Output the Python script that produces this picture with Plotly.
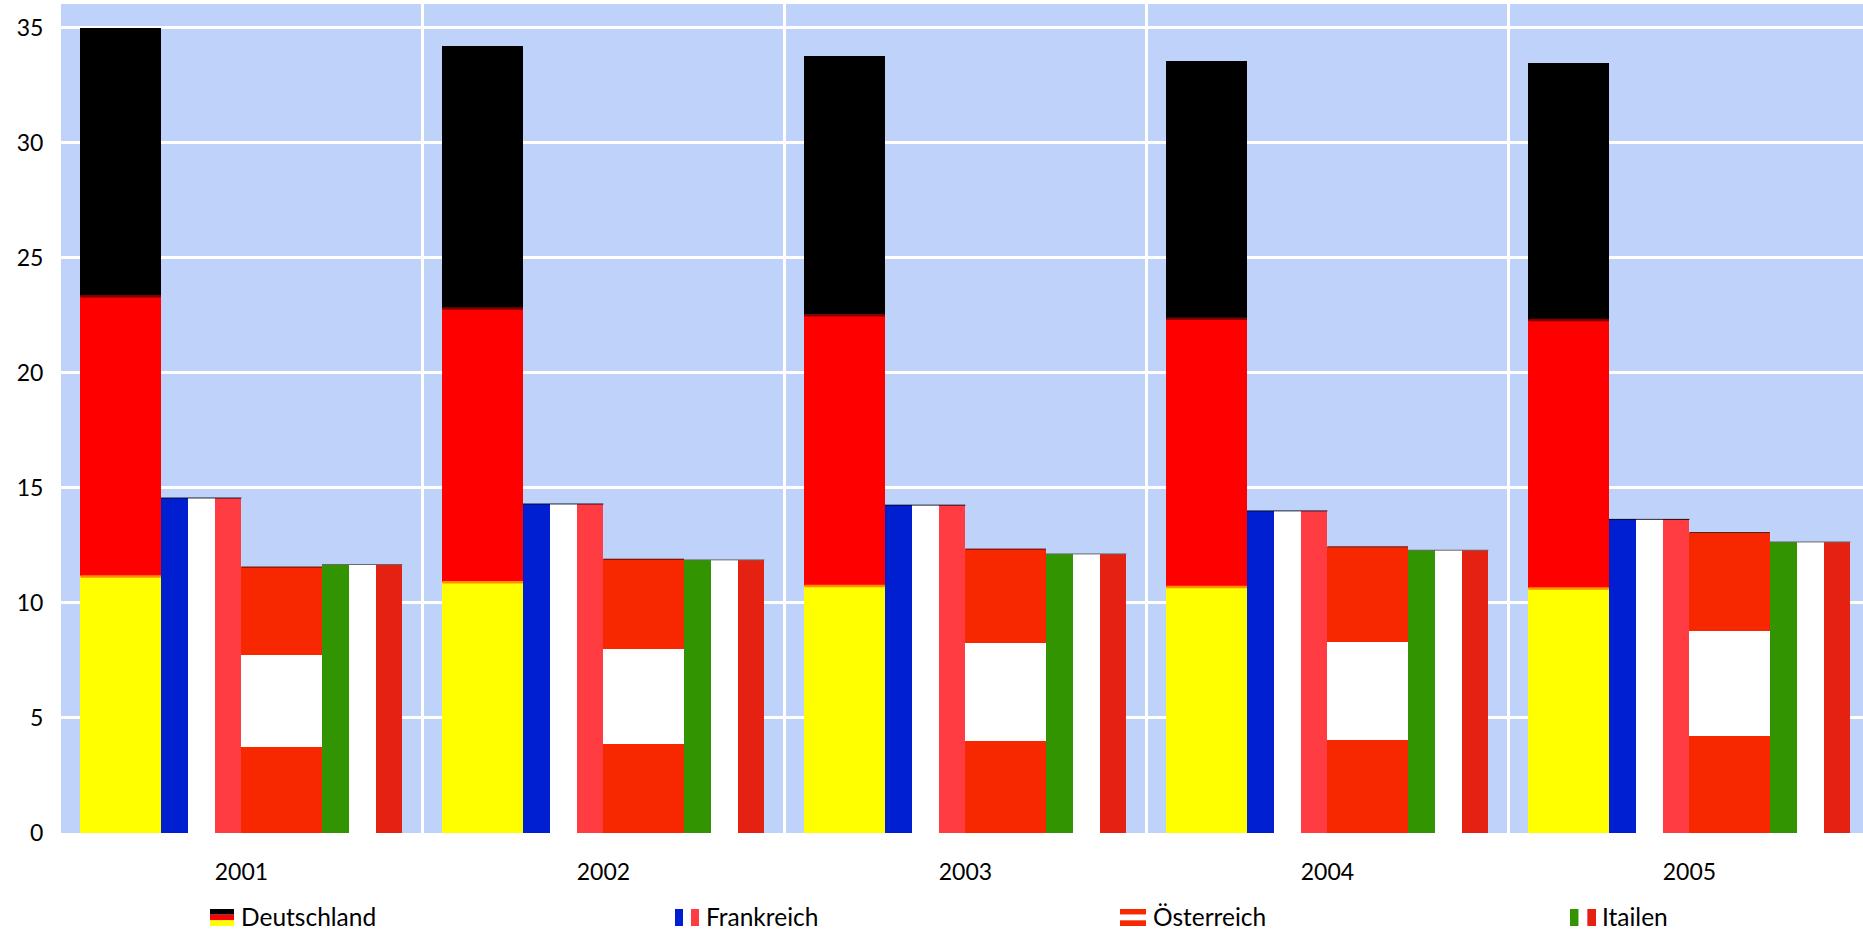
import plotly.graph_objects as go

years = ["2001", "2002", "2003", "2004", "2005"]
countries = ["Deutschland", "Frankreich", "Österreich", "Itailen"]

de_yellow = [11.15, 10.90, 10.74, 10.69, 10.63]
de_red = [12.18, 11.90, 11.76, 11.66, 11.67]
de_black = [11.67, 11.40, 11.26, 11.20, 11.15]
fr_total = [14.56, 14.30, 14.25, 14.00, 13.63]
at_lower = [3.72, 3.87, 3.98, 4.03, 4.23]
at_white = [4.02, 4.13, 4.28, 4.28, 4.55]
at_upper = [3.82, 3.90, 4.08, 4.13, 4.28]
it_total = [11.67, 11.87, 12.13, 12.29, 12.65]

BG = "#BFD2F9"
YELLOW, RED, BLACK = "#FFFF00", "#FF0000", "#000000"
FR_BLUE, FR_RED = "#001FD0", "#FF3C41"
AT_RED = "#F72800"
IT_GREEN, IT_RED = "#329400", "#E52212"
WHITE = "#FFFFFF"
FONT = "Lato"

W, H = 1863, 935
ML, MT, MB = 61, 4, 102
BAR_W = 0.2224
STRIPE_W = BAR_W / 3

fig = go.Figure()


def add(offset, values, color, width, name):
    fig.add_trace(go.Bar(
        x=[i + offset for i in range(len(years))],
        y=values, width=width, name=name,
        marker=dict(color=color, line=dict(width=0)),
        showlegend=False,
    ))


def edge(offset, values, color, width):
    xs, ys = [], []
    for i, v in enumerate(values):
        xs += [i + offset - BAR_W / 2, i + offset + BAR_W / 2, None]
        ys += [v, v, None]
    fig.add_trace(go.Scatter(x=xs, y=ys, mode="lines", showlegend=False,
                             hoverinfo="skip", line=dict(color=color, width=width)))


c = [-1.5 * BAR_W, -0.5 * BAR_W, 0.5 * BAR_W, 1.5 * BAR_W]

add(c[0], de_yellow, YELLOW, BAR_W, countries[0])
add(c[0], de_red, RED, BAR_W, countries[0])
add(c[0], de_black, BLACK, BAR_W, countries[0])

add(c[1] - STRIPE_W, fr_total, FR_BLUE, STRIPE_W, countries[1])
add(c[1], fr_total, WHITE, STRIPE_W, countries[1])
add(c[1] + STRIPE_W, fr_total, FR_RED, STRIPE_W, countries[1])

add(c[2], at_lower, AT_RED, BAR_W, countries[2])
add(c[2], at_white, WHITE, BAR_W, countries[2])
add(c[2], at_upper, AT_RED, BAR_W, countries[2])

add(c[3] - STRIPE_W, it_total, IT_GREEN, STRIPE_W, countries[3])
add(c[3], it_total, WHITE, STRIPE_W, countries[3])
add(c[3] + STRIPE_W, it_total, IT_RED, STRIPE_W, countries[3])

# soft seams in the German flag and thin dark top edges of the other bars
de_seam1 = de_yellow
de_seam2 = [a + b for a, b in zip(de_yellow, de_red)]
at_top = [a + b + d for a, b, d in zip(at_lower, at_white, at_upper)]
edge(c[0], de_seam1, "#FF9000", 2.5)
edge(c[0], de_seam2, "#800000", 2.5)
edge(c[1], fr_total, "rgba(0,0,20,0.85)", 1)
edge(c[2], at_top, "rgba(70,0,0,0.85)", 1)
edge(c[3], it_total, "#6A6A6A", 1)

plot_w = W - ML
plot_h = H - MT - MB


def px(x):
    return (x - ML) / plot_w


def py(y):
    return (H - MB - y) / plot_h


shapes = []
annotations = []


def rect(x0, x1, y0, y1, color):
    shapes.append(dict(type="rect", xref="paper", yref="paper",
                       x0=px(x0), x1=px(x1), y0=py(y0), y1=py(y1),
                       fillcolor=color, line=dict(width=0), layer="above"))


SW_TOP, SW_BOT = 909, 926
swatch_h = (SW_BOT - SW_TOP) / 3


def h_flag(x0, x1, colors):
    for k, col in enumerate(colors):
        rect(x0, x1, SW_TOP + k * swatch_h, SW_TOP + (k + 1) * swatch_h, col)


def v_flag(x0, x1, colors):
    w = (x1 - x0) / 3
    for k, col in enumerate(colors):
        rect(x0 + k * w, x0 + (k + 1) * w, SW_TOP, SW_BOT, col)


h_flag(210, 234, [BLACK, RED, YELLOW])
v_flag(675, 699, [FR_BLUE, WHITE, FR_RED])
h_flag(1120, 1146, [AT_RED, WHITE, AT_RED])
v_flag(1570, 1596, [IT_GREEN, WHITE, IT_RED])

for name, tx in zip(countries, [238.5, 704, 1150.5, 1600]):
    annotations.append(dict(text=name, xref="paper", yref="paper",
                            x=px(tx), y=py(916), xanchor="left", yanchor="middle",
                            showarrow=False, font=dict(family=FONT, size=24.5, color="#000000")))

x_start = -(241.4 - ML) / 362

fig.update_layout(
    width=W, height=H,
    margin=dict(l=ML, r=0, t=MT, b=MB, pad=0),
    paper_bgcolor="#FFFFFF", plot_bgcolor=BG,
    barmode="stack",
    shapes=shapes, annotations=annotations,
    showlegend=False,
    font=dict(family=FONT, size=23, color="#000000"),
    xaxis=dict(
        range=[x_start, x_start + plot_w / 362],
        tickmode="array", tickvals=list(range(len(years))), ticktext=years,
        showgrid=False, zeroline=False, showline=False,
        ticks="outside", ticklen=18, tickcolor="rgba(0,0,0,0)",
        minor=dict(tickmode="array", tickvals=[0.5, 1.5, 2.5, 3.5],
                   showgrid=True, gridcolor=WHITE, gridwidth=2.5, ticks=""),
    ),
    yaxis=dict(
        range=[0, 36.03],
        tickmode="array", tickvals=[0, 5, 10, 15, 20, 25, 30, 35],
        showgrid=True, gridcolor=WHITE, gridwidth=2.5,
        zeroline=False, showline=False,
        ticks="outside", ticklen=12, tickcolor="rgba(0,0,0,0)",
    ),
)

fig.write_html("out.html", config={"displayModeBar": False},
               post_script="document.body.style.margin='0';document.body.style.overflow='hidden';")
